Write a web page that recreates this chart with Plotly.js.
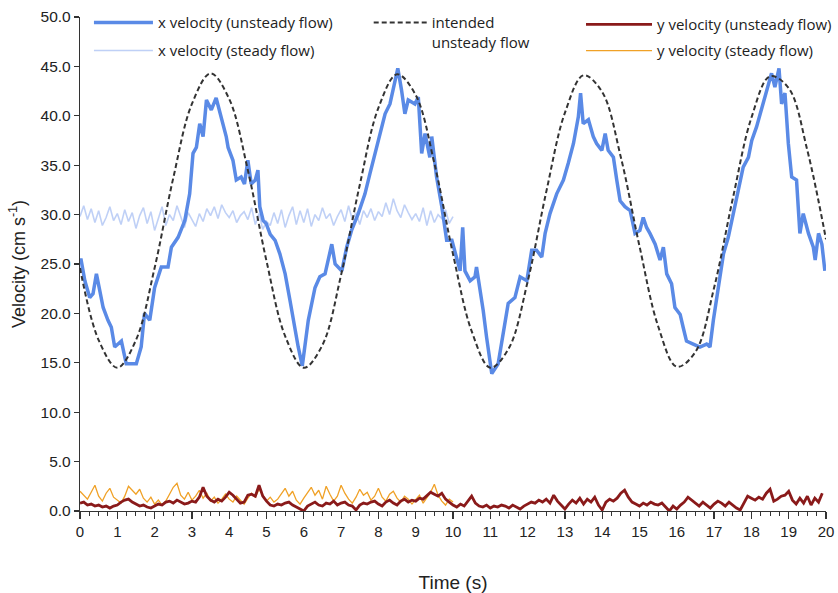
<!DOCTYPE html>
<html>
<head>
<meta charset="utf-8">
<script src="https://cdn.plot.ly/plotly-3.0.1.min.js"></script>
<style>html,body{margin:0;padding:0;background:#fff;}#chart{width:838px;height:593px;}</style>
</head>
<body>
<div id="chart"></div>
<script>
// x velocity (unsteady flow): time (s) and value (cm/s)
var tXUnsteady = [0.00,0.03,0.13,0.26,0.35,0.44,0.53,0.62,0.75,0.84,0.93,1.02,1.11,1.24,1.51,1.64,1.73,1.87,2.00,2.18,2.36,2.45,2.63,2.81,2.94,3.03,3.12,3.21,3.30,3.39,3.52,3.65,3.79,3.92,3.97,4.10,4.19,4.32,4.41,4.50,4.59,4.70,4.77,4.82,4.91,4.99,5.10,5.23,5.36,5.50,5.63,5.72,5.85,5.96,6.12,6.30,6.43,6.57,6.70,6.75,6.84,7.02,7.15,7.28,7.46,7.64,7.77,7.91,8.04,8.18,8.31,8.40,8.52,8.62,8.71,8.80,8.98,9.07,9.16,9.25,9.38,9.43,9.56,9.70,9.83,9.97,10.10,10.19,10.26,10.32,10.46,10.59,10.63,10.72,10.81,10.90,10.99,11.04,11.21,11.35,11.48,11.66,11.80,11.98,12.11,12.24,12.38,12.47,12.60,12.78,12.96,13.09,13.23,13.36,13.42,13.49,13.63,13.76,13.85,13.99,14.08,14.16,14.30,14.39,14.48,14.61,14.75,14.88,15.01,15.10,15.19,15.28,15.42,15.55,15.64,15.73,15.86,15.95,16.09,16.17,16.26,16.44,16.62,16.80,16.89,16.98,17.11,17.25,17.38,17.51,17.65,17.78,17.92,18.01,18.14,18.28,18.41,18.54,18.63,18.74,18.81,18.90,18.99,19.08,19.21,19.30,19.39,19.53,19.66,19.71,19.80,19.89,19.97];
var vXUnsteady = [25.4,25.4,23.3,21.6,22.0,24.0,22.3,20.6,19.3,18.6,16.6,16.9,17.2,14.9,14.9,16.6,20.0,19.3,22.6,24.7,24.7,26.7,27.7,29.4,32.1,36.2,36.8,39.2,37.9,41.6,40.6,41.8,39.9,37.9,36.8,35.5,33.5,33.8,33.1,35.5,33.1,33.5,34.5,30.8,29.4,29.1,28.0,27.4,26.0,24.0,21.3,19.3,16.6,14.7,19.3,22.6,23.7,24.0,26.0,27.0,25.0,24.3,26.7,28.4,30.1,32.1,34.1,36.2,37.9,40.2,41.2,42.9,44.8,42.6,40.2,41.6,41.2,41.9,36.2,38.2,35.8,37.9,33.8,30.8,27.4,27.4,25.4,24.3,28.7,24.3,23.3,23.7,24.7,22.6,20.3,17.6,14.9,13.9,14.9,18.3,21.0,21.6,23.7,23.3,26.4,26.4,25.7,28.1,30.1,32.1,33.5,35.2,37.2,39.9,42.3,39.2,39.6,37.9,37.2,36.5,38.2,36.5,35.8,33.5,31.4,30.8,30.4,28.1,28.4,29.7,28.7,28.1,27.0,25.4,26.7,24.0,23.0,20.6,19.9,18.6,17.2,16.9,16.6,16.9,16.6,19.3,22.6,26.0,27.7,30.1,32.8,34.8,35.8,37.5,38.9,40.9,42.6,44.3,42.9,44.8,41.2,42.3,37.2,33.8,33.5,28.1,30.1,28.1,26.7,25.4,28.1,27.0,24.3];

// x velocity (steady flow), sampled every 0.1 s from 0 to 10 s
var vXSteady = [29.8,30.9,29.5,30.6,29.2,30.4,28.9,29.7,30.8,29.4,
30.1,29.0,30.5,29.3,30.2,28.6,29.9,30.7,29.1,30.3,
28.4,29.6,30.8,28.9,30.0,29.4,30.9,29.8,28.7,30.2,
29.5,28.8,30.1,29.3,30.6,29.9,30.8,29.6,31.0,30.2,
29.7,30.4,29.2,29.9,30.3,29.5,30.7,29.0,30.1,28.5,
29.3,28.9,30.2,29.1,30.5,28.7,29.9,30.8,29.0,30.4,
29.2,30.6,28.8,30.0,29.4,30.7,29.6,30.1,28.9,29.8,
30.5,29.3,30.9,29.5,30.2,29.0,30.4,29.7,30.6,29.4,
30.3,29.8,31.2,30.0,31.6,30.4,29.7,31.0,30.2,29.5,
30.1,29.3,30.7,28.9,30.4,29.2,30.0,29.6,30.5,29.1,29.8];

// intended unsteady flow, sampled every 0.5 s from 0 to 20 s
var vIntended = [24.6,17.3,14.5,17.3,24.6,33.7,41.2,44.3,41.7,34.5,25.3,17.7,14.5,16.8,23.9,33.0,40.8,44.2,42.1,35.2,26.0,18.2,14.5,16.5,23.2,32.3,40.3,44.1,42.4,35.8,26.8,18.7,14.6,16.1,22.6,31.6,39.8,44.0,42.8,36.5,27.5];

// y velocity (unsteady flow), every 0.1 s from 0 to 19.9 s
var vYUnsteady = [0.8,0.9,0.6,0.7,0.5,0.6,0.4,0.5,0.3,0.5,
0.6,0.9,1.1,1.2,0.9,0.7,0.5,0.6,0.4,0.3,
0.5,0.7,0.6,0.9,1.0,0.8,1.1,0.9,0.7,0.8,
1.0,0.9,1.4,2.4,1.5,1.1,0.9,1.2,1.0,1.4,
1.9,1.6,1.2,0.8,0.9,1.6,1.7,1.5,2.6,1.5,
1.0,0.6,0.5,0.7,0.6,0.8,0.9,0.6,0.4,0.2,
0.0,0.5,0.7,0.9,0.6,0.5,0.8,0.7,1.0,0.6,
0.8,0.9,0.6,0.5,0.1,0.6,0.8,0.7,0.9,1.0,
0.7,0.5,0.9,1.1,0.8,0.6,1.0,1.2,0.9,1.1,
1.0,1.3,1.2,1.6,1.9,1.7,1.5,1.8,1.2,0.9,
0.6,0.4,0.7,0.5,1.0,1.5,0.8,0.5,0.4,0.6,
0.3,0.5,0.4,0.6,0.5,0.3,0.6,0.4,0.2,0.5,
0.7,0.9,0.8,1.1,0.9,1.2,0.8,1.6,1.0,0.6,
0.2,0.7,1.1,0.8,1.3,0.7,1.2,0.9,1.4,0.6,
0.1,0.9,1.2,1.0,1.3,1.8,2.1,1.4,0.9,0.7,
0.5,0.8,0.6,0.9,0.7,0.6,0.8,0.4,0.0,0.5,
0.2,0.6,0.9,1.4,1.1,0.8,0.5,0.9,0.6,0.3,
0.7,1.0,0.8,0.5,0.9,0.6,0.3,0.1,0.8,1.5,
1.3,1.1,1.4,1.2,1.8,2.2,1.0,1.2,1.5,1.6,
2.0,1.1,0.7,1.3,0.8,1.5,0.6,1.3,0.9,1.8];

// y velocity (steady flow), every 0.1 s from 0 to 10 s
var vYSteady = [2.0,1.6,1.2,1.9,2.6,1.5,1.0,1.8,2.3,1.4,
1.1,0.8,1.5,2.5,2.1,1.7,2.2,1.3,0.9,1.4,
0.7,1.1,0.6,1.0,1.7,2.4,2.8,1.6,1.2,1.9,
1.1,1.5,2.1,1.3,1.8,1.0,1.4,0.8,1.2,1.7,
1.2,0.9,1.5,1.1,0.7,1.3,1.8,1.4,2.2,1.6,
1.0,1.4,0.9,1.2,1.8,2.3,1.5,2.0,1.1,0.7,
1.3,1.9,2.4,1.6,2.1,1.2,2.5,1.7,1.0,1.5,
2.6,1.8,1.2,0.8,1.4,2.2,1.6,1.9,1.1,1.5,
2.3,1.4,1.0,1.7,2.0,1.3,0.9,1.5,1.2,0.7,
1.1,1.6,0.8,1.3,1.9,2.7,1.6,1.0,0.6,1.2,0.9];

var xTickVals = [0,1,2,3,4,5,6,7,8,9,10,11,12,13,14,15,16,17,18,19,20];
var yTickVals = [0,5,10,15,20,25,30,35,40,45,50];

function timeAxis(n, step) { var a = []; for (var i = 0; i < n; i++) a.push(Math.round(i * step * 100) / 100); return a; }

var legendFont = {family: 'Open Sans, sans-serif', size: 15, color: '#222'};
function leg(x, y, w) {
  return {x: x, y: y, xanchor: 'left', yanchor: 'top', bgcolor: 'rgba(0,0,0,0)', borderwidth: 0,
          font: legendFont, itemwidth: w, valign: 'top', tracegroupgap: 0};
}

var traces = [
  {x: timeAxis(vXSteady.length, 0.1), y: vXSteady, mode: 'lines', name: 'x velocity (steady flow)',
   line: {color: 'rgba(180,200,245,0.85)', width: 1.6}, legend: 'legend2'},
  {x: tXUnsteady, y: vXUnsteady, mode: 'lines', name: 'x velocity (unsteady flow)',
   line: {color: '#5a8ae6', width: 3.5}, legend: 'legend'},
  {x: timeAxis(vIntended.length, 0.5), y: vIntended, mode: 'lines', name: 'intended<br>unsteady flow',
   line: {color: '#333333', width: 2, dash: '5px,3px', shape: 'spline'}, legend: 'legend3'},
  {x: timeAxis(vYSteady.length, 0.1), y: vYSteady, mode: 'lines', name: 'y velocity (steady flow)',
   line: {color: '#f0a126', width: 1.3}, legend: 'legend5'},
  {x: timeAxis(vYUnsteady.length, 0.1), y: vYUnsteady, mode: 'lines', name: 'y velocity (unsteady flow)',
   line: {color: '#8a1a1a', width: 2.8}, legend: 'legend4'}
];

var layout = {
  width: 838, height: 593,
  margin: {l: 80, r: 12, t: 17, b: 82, autoexpand: false},
  paper_bgcolor: '#ffffff', plot_bgcolor: '#ffffff',
  showlegend: true,
  legend: leg(0.012, 1.022, 59),
  legend2: leg(0.012, 0.965, 59),
  legend3: leg(0.387, 1.022, 53),
  legend4: leg(0.6716, 1.018, 66),
  legend5: leg(0.6716, 0.965, 66),
  xaxis: {
    range: [0, 20], tickvals: xTickVals, ticktext: xTickVals.map(String),
    showgrid: false, zeroline: false, showline: true, linecolor: '#333', linewidth: 1.2,
    ticks: 'outside', ticklen: 7, tickcolor: '#333', tickwidth: 1.2,
    minor: {dtick: 0.25, tick0: 0, ticks: 'outside', ticklen: 4, tickcolor: '#333', tickwidth: 1, showgrid: false},
    tickfont: {family: 'Liberation Sans, Arial, sans-serif', size: 15, color: '#222'},
    title: {text: 'Time (s)', font: {family: 'Liberation Sans, Arial, sans-serif', size: 19, color: '#222'}, standoff: 36}
  },
  yaxis: {
    range: [0, 50], tickvals: yTickVals, ticktext: yTickVals.map(function (v) { return v.toFixed(1); }),
    showgrid: false, zeroline: false, showline: true, linecolor: '#333', linewidth: 1.2,
    ticks: 'outside', ticklen: 5, tickcolor: '#333', tickwidth: 1.2,
    tickfont: {family: 'Liberation Sans, Arial, sans-serif', size: 15.5, color: '#222'},
    title: {text: 'Velocity (cm s<sup>-1</sup>)', font: {family: 'Liberation Sans, Arial, sans-serif', size: 18, color: '#222'}, standoff: 10}
  }
};

Plotly.newPlot('chart', traces, layout, {displayModeBar: false, staticPlot: true});
</script>
</body>
</html>
